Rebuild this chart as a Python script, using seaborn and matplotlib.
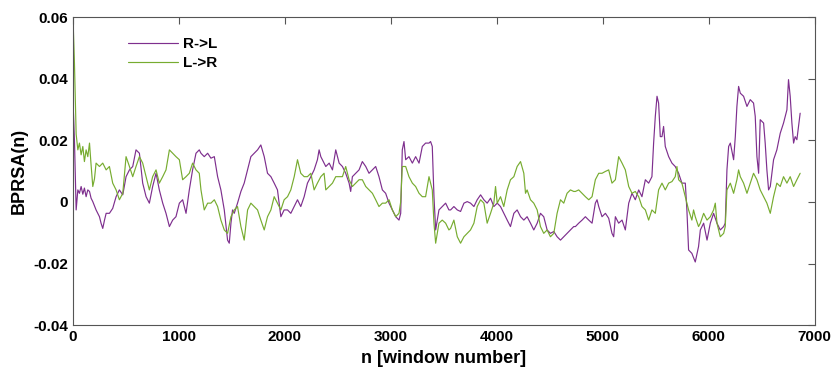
import numpy as np
import pandas as pd
import seaborn as sns
import matplotlib.pyplot as plt

# window positions / BPRSA values
rl_n = [0, 14, 30, 46, 61, 77, 93, 108, 124, 140, 156, 171, 187, 218, 250, 265, 281, 297, 313, 344,
        375, 407, 438, 470, 501, 533, 564, 595, 627, 658, 690, 721, 752, 784, 815, 847, 878, 910, 941, 972,
        1004, 1035, 1067, 1098, 1129, 1161, 1192,
        1208, 1239, 1271, 1302, 1334, 1349, 1365, 1396, 1428, 1459, 1475, 1491, 1506, 1522, 1553, 1585, 1616,
        1648, 1679, 1711, 1742, 1773, 1805, 1836, 1868, 1899, 1930, 1962, 1993, 2025, 2056, 2088, 2119, 2150,
        2182, 2213, 2245, 2276, 2307, 2323, 2339, 2370,
        2386, 2418, 2449, 2480, 2512, 2543, 2574, 2606, 2621, 2637, 2669, 2700, 2731, 2763, 2794, 2826, 2857,
        2888, 2920, 2951, 2983, 3014, 3046, 3077, 3093, 3108, 3124, 3140, 3171, 3203, 3234, 3266, 3297, 3328,
        3360, 3375, 3391, 3407, 3423, 3454, 3485, 3517, 3548,
        3564, 3595, 3627, 3658, 3690, 3721, 3752, 3784, 3815, 3847, 3878, 3909, 3941, 3972, 4004, 4035, 4066,
        4098, 4129, 4161, 4192, 4224, 4255, 4286, 4318, 4349, 4381, 4412, 4443, 4475, 4506, 4538, 4569, 4601,
        4632, 4663, 4695, 4726,
        4742, 4773, 4805, 4836, 4868, 4899, 4930, 4946, 4962, 4993, 5025, 5056, 5087, 5103, 5119, 5150, 5182,
        5213, 5229, 5245, 5276, 5307, 5339, 5370, 5402, 5433, 5464, 5480, 5496, 5512, 5527, 5543, 5559, 5574,
        5590, 5622, 5653, 5684, 5716, 5747, 5779, 5794, 5810, 5841, 5873, 5904,
        5921, 5952, 5984, 6015, 6046, 6078, 6109, 6141, 6156, 6172, 6188, 6204, 6235, 6251, 6266, 6282, 6298,
        6329, 6361, 6392, 6423, 6439, 6455, 6471, 6486, 6518, 6533, 6549, 6565, 6581, 6612, 6643, 6675, 6706,
        6738, 6753, 6769, 6785, 6801, 6816, 6832, 6848, 6863]
rl_val = [0.0332, 0.0200, -0.0026, 0.0039, 0.0028, 0.0050, 0.0025, 0.0045, 0.0017, 0.0039, 0.0034, 0.0012,
          0.0001, -0.0026, -0.0048, -0.0069, -0.0086, -0.0060, -0.0037, -0.0037,
          -0.0021, 0.0017, 0.0039, 0.0023, 0.0082, 0.0104, 0.0115, 0.0169, 0.0158, 0.0061, 0.0017, -0.0004,
          0.0050, 0.0093, 0.0039, -0.0004, -0.0037, -0.0080, -0.0059, -0.0048,
          -0.0004, 0.0007, -0.0037, 0.0039, 0.0104, 0.0158, 0.0169,
          0.0158, 0.0147, 0.0158, 0.0142, 0.0147, 0.0115, 0.0082, 0.0039, -0.0026, -0.0124, -0.0134, -0.0069,
          -0.0026, -0.0037, -0.0004, 0.0034, 0.0061,
          0.0104, 0.0147, 0.0158, 0.0169, 0.0185, 0.0147, 0.0093, 0.0082, 0.0061, 0.0039, -0.0048, -0.0026,
          -0.0026, -0.0037, -0.0015, 0.0007, -0.0015,
          0.0017, 0.0061, 0.0082, 0.0104, 0.0137, 0.0169, 0.0147, 0.0126,
          0.0115, 0.0126, 0.0104, 0.0169, 0.0126, 0.0115, 0.0093, 0.0061, 0.0034, 0.0082, 0.0093, 0.0104,
          0.0131, 0.0115, 0.0093, 0.0104, 0.0115,
          0.0082, 0.0039, 0.0028, -0.0004, -0.0026, -0.0048, -0.0059, -0.0037, 0.0169, 0.0196, 0.0137, 0.0147,
          0.0126, 0.0147, 0.0126, 0.0180, 0.0191,
          0.0191, 0.0196, 0.0180, 0.0017, -0.0091, -0.0026, -0.0015, -0.0004, -0.0026,
          -0.0026, -0.0015, -0.0026, -0.0031, -0.0004, 0.0001, -0.0004, -0.0015, 0.0007, 0.0023, 0.0007,
          -0.0004, 0.0012, -0.0015, -0.0004, -0.0015, -0.0037,
          -0.0059, -0.0080, -0.0037, -0.0026, -0.0048, -0.0059, -0.0048, -0.0069, -0.0091, -0.0069, -0.0037,
          -0.0048, -0.0091, -0.0102, -0.0096, -0.0113, -0.0124,
          -0.0113, -0.0102, -0.0091, -0.0080,
          -0.0080, -0.0069, -0.0059, -0.0048, -0.0059, -0.0069, -0.0004, 0.0007, -0.0015, -0.0048, -0.0037,
          -0.0053, -0.0102, -0.0113, -0.0048, -0.0069, -0.0059,
          -0.0091, -0.0048, -0.0004, 0.0028, 0.0007, 0.0039, 0.0017, 0.0072, 0.0061, 0.0082, 0.0191, 0.0278,
          0.0343, 0.0321, 0.0212, 0.0212, 0.0245,
          0.0180, 0.0147, 0.0126, 0.0115, 0.0093, 0.0061, 0.0061, -0.0026, -0.0156, -0.0167, -0.0195, -0.0145,
          -0.0091, -0.0069, -0.0124, -0.0069, -0.0037, -0.0069, -0.0091, -0.0080, -0.0069, 0.0104, 0.0180,
          0.0191, 0.0137, 0.0212, 0.0310, 0.0375, 0.0353,
          0.0343, 0.0310, 0.0332, 0.0321, 0.0278, 0.0147, 0.0093, 0.0267, 0.0256, 0.0191, 0.0104, 0.0039,
          0.0050, 0.0137, 0.0169, 0.0223, 0.0256,
          0.0299, 0.0397, 0.0343, 0.0256, 0.0191, 0.0212, 0.0202, 0.0245, 0.0288]

lr_n = [0, 14, 30, 46, 61, 77, 93, 108, 124, 140, 156, 171, 187, 203, 218, 250, 281, 313, 344, 375,
        407, 438, 470, 501, 533, 564, 595, 627, 658, 690, 721, 752, 784, 815, 847, 878, 910, 941, 972, 1004,
        1035, 1067, 1098, 1129, 1161, 1192,
        1208, 1239, 1271, 1302, 1334, 1365, 1396, 1428, 1459, 1491, 1522, 1553, 1585, 1616, 1648, 1679, 1711,
        1742, 1773, 1805, 1836, 1868, 1899, 1930, 1962, 1993, 2025, 2056, 2088, 2119, 2150, 2182, 2213, 2245,
        2276, 2307, 2339, 2370,
        2386, 2418, 2449, 2480, 2512, 2543, 2574, 2606, 2637, 2669, 2700, 2731, 2763, 2794, 2826, 2857, 2888,
        2920, 2951, 2983, 3014, 3046, 3077, 3093, 3108, 3140, 3171, 3203, 3234, 3266, 3297, 3328, 3360, 3391,
        3407, 3423, 3454, 3485, 3517, 3548,
        3564, 3595, 3627, 3658, 3690, 3721, 3752, 3784, 3815, 3847, 3878, 3909, 3941, 3972, 3988, 4004, 4035,
        4066, 4098, 4129, 4161, 4192, 4224, 4255, 4271, 4286, 4318, 4349, 4381, 4412, 4443, 4475, 4506, 4538,
        4569, 4601, 4632, 4663, 4695, 4726,
        4742, 4773, 4805, 4836, 4868, 4899, 4930, 4962, 4993, 5025, 5056, 5087, 5119, 5150, 5182, 5213, 5245,
        5276, 5307, 5339, 5370, 5402, 5433, 5464, 5496, 5527, 5559, 5590, 5622, 5653, 5684, 5700, 5716, 5747,
        5779, 5810, 5841, 5857, 5873, 5904,
        5921, 5952, 5984, 6015, 6046, 6062, 6078, 6109, 6141, 6156, 6172, 6204, 6235, 6266, 6282, 6298, 6329,
        6361, 6392, 6423, 6455, 6486, 6518, 6549, 6581, 6612, 6643, 6675, 6706, 6738, 6769, 6801, 6832, 6863]
lr_val = [0.0600, 0.0450, 0.0220, 0.0169, 0.0191, 0.0153, 0.0180, 0.0131, 0.0169, 0.0147, 0.0191, 0.0120,
          0.0050, 0.0075, 0.0126, 0.0115, 0.0126, 0.0104, 0.0115, 0.0061,
          0.0039, 0.0007, 0.0028, 0.0147, 0.0115, 0.0082, 0.0115, 0.0147, 0.0126, 0.0082, 0.0039, 0.0082,
          0.0104, 0.0061, 0.0082, 0.0104, 0.0169, 0.0158, 0.0147, 0.0137,
          0.0072, 0.0082, 0.0093, 0.0126, 0.0104, 0.0093,
          0.0039, -0.0026, -0.0004, -0.0004, 0.0007, -0.0015, -0.0059, -0.0091, -0.0102, -0.0048, -0.0026,
          -0.0015, -0.0080, -0.0124, -0.0026, -0.0004, -0.0015,
          -0.0026, -0.0059, -0.0091, -0.0048, -0.0026, 0.0017, -0.0004, -0.0026, 0.0007, 0.0017, 0.0039,
          0.0082, 0.0137, 0.0093, 0.0082, 0.0082, 0.0093,
          0.0039, 0.0061, 0.0082, 0.0093,
          0.0039, 0.0050, 0.0061, 0.0082, 0.0082, 0.0082, 0.0115, 0.0072, 0.0050, 0.0061, 0.0072, 0.0072,
          0.0050, 0.0039, 0.0028, 0.0007, -0.0015,
          -0.0004, -0.0004, 0.0007, -0.0026, -0.0048, -0.0037, 0.0000, 0.0115, 0.0115, 0.0082, 0.0061, 0.0050,
          0.0028, 0.0017, 0.0017, 0.0082, 0.0039,
          -0.0069, -0.0134, -0.0069, -0.0059, -0.0069, -0.0091,
          -0.0086, -0.0059, -0.0113, -0.0134, -0.0113, -0.0102, -0.0091, -0.0069, -0.0015, 0.0007, -0.0004,
          -0.0069, -0.0037, -0.0004, 0.0050, -0.0004, 0.0017,
          -0.0015, 0.0039, 0.0072, 0.0082, 0.0115, 0.0131, 0.0093, 0.0028, 0.0039, 0.0007, -0.0004, -0.0026,
          -0.0080, -0.0102, -0.0091, -0.0113, -0.0102,
          -0.0037, 0.0007, -0.0004, 0.0028, 0.0039, 0.0034,
          0.0034, 0.0039, 0.0028, 0.0017, 0.0007, 0.0017, 0.0072, 0.0093, 0.0093, 0.0099, 0.0104, 0.0061,
          0.0072, 0.0147, 0.0126, 0.0104, 0.0050,
          0.0028, 0.0034, 0.0017, -0.0015, -0.0026, -0.0059, -0.0026, -0.0037, 0.0039, 0.0061, 0.0039, 0.0061,
          0.0066, 0.0082, 0.0115, 0.0072, 0.0061,
          0.0017, -0.0026, -0.0059, -0.0026, -0.0048, -0.0080,
          -0.0069, -0.0037, -0.0059, -0.0048, -0.0026, -0.0004, -0.0069, -0.0113, -0.0102, -0.0080, 0.0039,
          0.0061, 0.0028, 0.0072, 0.0104, 0.0082, 0.0061,
          0.0028, 0.0061, 0.0093, 0.0072, 0.0039, 0.0017, -0.0004, -0.0037, 0.0017, 0.0061, 0.0050, 0.0082,
          0.0061, 0.0082, 0.0050, 0.0072, 0.0093]

series_names = ['R->L', 'L->R']
series_colors = ['#7E2F8E', '#77AC30']

df = pd.concat([
    pd.DataFrame({'n': rl_n, 'BPRSA': rl_val, 'dir': 'R->L'}),
    pd.DataFrame({'n': lr_n, 'BPRSA': lr_val, 'dir': 'L->R'}),
])

sns.set_style('white')
plt.rcParams['font.family'] = ['Liberation Sans', 'DejaVu Sans']
plt.rcParams['font.weight'] = 'bold'
plt.rcParams['text.color'] = 'black'
plt.rcParams['axes.labelcolor'] = 'black'

fig = plt.figure(figsize=(8.33, 3.72), dpi=100)
ax = fig.add_axes([0.0876, 0.126, 0.8904, 0.828])

sns.lineplot(data=df, x='n', y='BPRSA', hue='dir', hue_order=series_names,
             palette=series_colors, estimator=None, sort=False, linewidth=0.85, ax=ax)

ax.set_xlim(0, 7000)
ax.set_ylim(-0.04, 0.06)
ax.set_xticks(np.arange(0, 7001, 1000))
ax.set_yticks([-0.04, -0.02, 0, 0.02, 0.04, 0.06])
ax.set_yticklabels(['-0.04', '-0.02', '0', '0.02', '0.04', '0.06'])
ax.tick_params(direction='in', top=True, right=True, length=5, width=0.8,
               color='#555555', labelsize=11, labelcolor='black')
for sp in ax.spines.values():
    sp.set_color('#555555')
    sp.set_linewidth(0.8)

ax.set_xlabel('n [window number]', fontsize=13, fontweight='bold', color='black', labelpad=4)
ax.set_ylabel('BPRSA(n)', fontsize=13, fontweight='bold', color='black', labelpad=4)

handles, labels = ax.get_legend_handles_labels()
leg = ax.legend(handles, labels, loc='upper left', bbox_to_anchor=(0.055, 0.98), frameon=False,
                handlelength=3.3, handletextpad=0.3, labelspacing=0.35,
                prop={'weight': 'bold', 'size': 11})
for t in leg.get_texts():
    t.set_color('black')

fig.savefig('out.png', dpi=100)
